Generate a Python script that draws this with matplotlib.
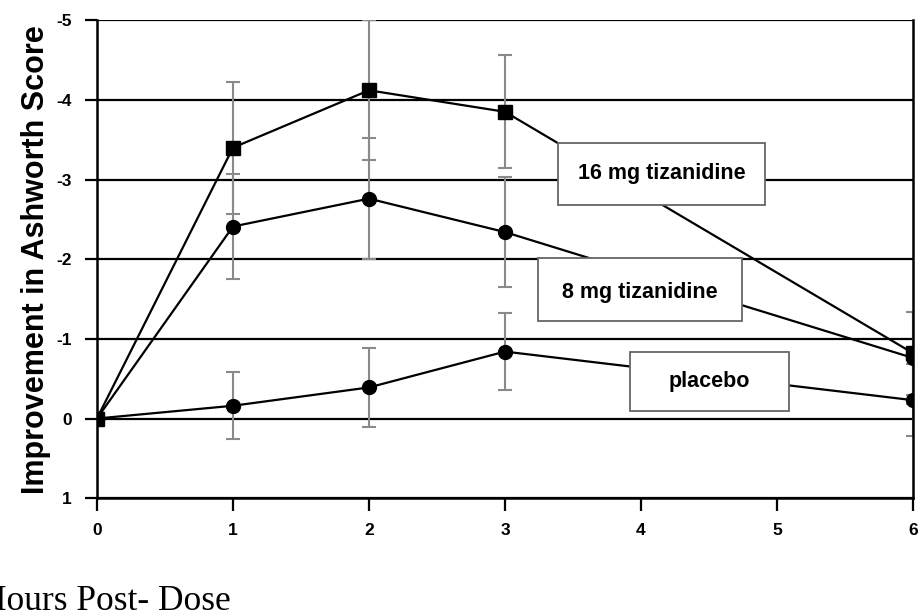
import numpy as np
import matplotlib.pyplot as plt
from matplotlib.patches import Rectangle

plt.rcParams['font.family'] = ['Liberation Sans', 'DejaVu Sans']

hours = [0, 1, 2, 3, 6]
tiz16 = [0, -3.40, -4.12, -3.85, -0.82]
tiz16_err = [0, 0.83, 0.88, 0.71, 0.52]
tiz8 = [0, -2.41, -2.76, -2.34, -0.76]
tiz8_err = [0, 0.66, 0.76, 0.69, 0.58]
placebo = [0, -0.16, -0.39, -0.84, -0.23]
placebo_err = [0, 0.42, 0.50, 0.48, 0.45]

x_ticks = [0, 1, 2, 3, 4, 5, 6]
y_ticks = [-5, -4, -3, -2, -1, 0, 1]
y_labels = ['-5', '-4', '-3', '-2', '-1', '0', '1']

fig = plt.figure(figsize=(9.19, 6.12), dpi=100)
ax = fig.add_axes([0.1055, 0.186, 0.888, 0.781])

# horizontal grid at every unit
for yv in y_ticks:
    ax.axhline(yv, color='black', lw=1.6, zorder=1)

err_kw = dict(fmt='none', ecolor='#8a8a8a', elinewidth=1.5, capsize=5,
              capthick=1.5, zorder=2)
ax.errorbar(hours, tiz16, yerr=tiz16_err, **err_kw)
ax.errorbar(hours, tiz8, yerr=tiz8_err, **err_kw)
ax.errorbar(hours, placebo, yerr=placebo_err, **err_kw)

ax.plot(hours, tiz16, color='black', lw=1.6, marker='s', ms=10, zorder=3)
ax.plot(hours, tiz8, color='black', lw=1.6, marker='o', ms=10, zorder=3)
ax.plot(hours, placebo, color='black', lw=1.6, marker='o', ms=10, zorder=3)

# label boxes sitting on top of the lines
boxes = [
    ('16 mg tizanidine', 3.39, -3.455, 1.52, 0.775, -3.07),
    ('8 mg tizanidine', 3.24, -2.01, 1.50, 0.78, -1.58),
    ('placebo', 3.92, -0.83, 1.17, 0.73, -0.46),
]
for label, bx, by, bw, bh, ty in boxes:
    ax.add_patch(Rectangle((bx, by), bw, bh, facecolor='white',
                           edgecolor='#666666', lw=1.3, zorder=4))
    ax.text(bx + bw / 2, ty, label, ha='center', va='center',
            fontsize=15.5, fontweight='bold', zorder=5)

ax.set_xlim(0, 6)
ax.set_ylim(1, -5)
ax.set_xticks(x_ticks)
ax.set_xticklabels([str(t) for t in x_ticks], fontsize=12.5, fontweight='bold')
ax.set_yticks(y_ticks)
ax.set_yticklabels(y_labels, fontsize=12.5, fontweight='bold')
ax.tick_params(direction='out', length=9, width=1.6, pad=9)

for side in ['left', 'right', 'bottom']:
    ax.spines[side].set_linewidth(1.8)
ax.spines['top'].set_visible(False)

ax.set_ylabel('Improvement in Ashworth Score', fontsize=22,
              fontweight='bold', labelpad=4)

fig.text(-0.021, 0.004, 'Hours Post- Dose', fontsize=25.5,
         family='Liberation Serif', ha='left', va='baseline')

fig.savefig('out.png', dpi=100)
